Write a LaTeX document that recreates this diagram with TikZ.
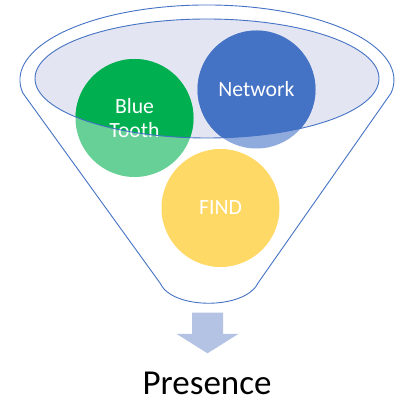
\documentclass[tikz,border=0pt]{standalone}
\usepackage{fontspec}
\setmainfont{Carlito}
\definecolor{funnelblue}{HTML}{4472C4}
\definecolor{rimfill}{HTML}{E3E6F2}
\definecolor{btgreen}{HTML}{00B050}
\definecolor{findyellow}{HTML}{FFC000}
\definecolor{arrowblue}{HTML}{B4C3E4}

\begin{document}
\begin{tikzpicture}[x=1pt, y=1pt,
    every node/.style={inner sep=0pt},
    ball/.style={circle, minimum size=118pt, text=white, align=center,
        font=\fontsize{21.7}{24}\selectfont},
    faded/.style={fill opacity=0.6, text opacity=1},
    rim/.style={draw=funnelblue, line width=0.9pt}
]
\useasboundingbox (0,0) rectangle (408,415);

\draw[rim] (22.8,322) arc[start angle=190, end angle=-10, x radius=187, y radius=75]
    -- (258,132) .. controls (245,105) and (172,105) .. (160,132) -- cycle;
\fill[rimfill] (207,336.5) ellipse[x radius=172, y radius=59.5];

\node[ball, fill=btgreen, faded] (bt) at (134.5,297) {Blue\\Tooth};
\node[ball, fill=funnelblue, faded] (net) at (256.5,325.5) {Network};
\node[ball, fill=findyellow, faded] (find) at (220.5,207) {FIND};

\begin{scope}
\clip (207,336.5) ellipse[x radius=172, y radius=59.5];
\node[ball, fill=btgreen] (btin) at (bt) {Blue\\Tooth};
\node[ball, fill=funnelblue] (netin) at (net) {Network};
\end{scope}
\draw[rim] (207,336.5) ellipse[x radius=172, y radius=59.5];

\fill[arrowblue] (192,102.3) -- (223,102.3) -- (223,81) -- (238.3,81)
    -- (207.5,61.7) -- (176.7,81) -- (192,81) -- cycle;

\node[font=\fontsize{35}{40}\selectfont, anchor=base] (presence) at (207,20) {Presence};
\end{tikzpicture}
\end{document}
